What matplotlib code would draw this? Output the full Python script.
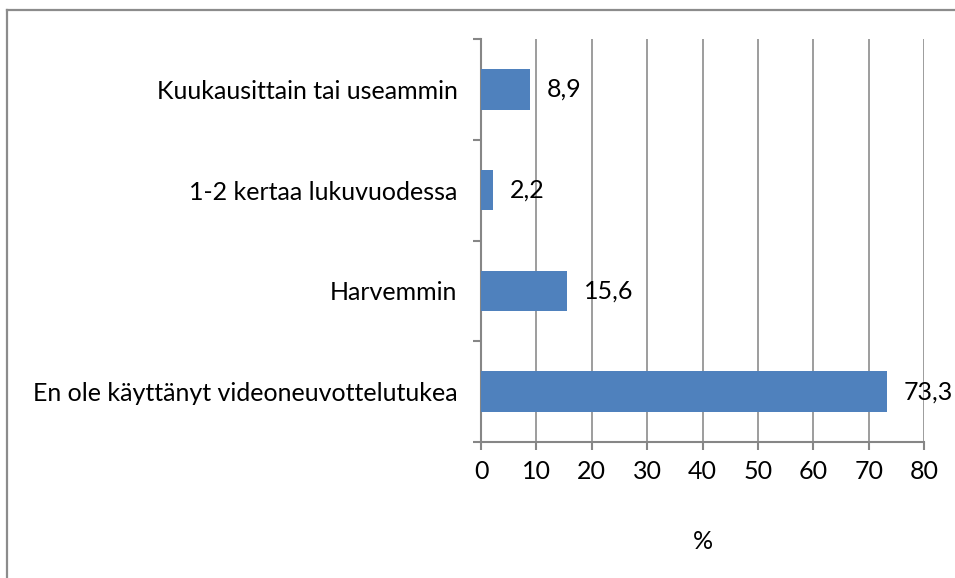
import matplotlib
matplotlib.use("Agg")
import matplotlib.pyplot as plt
from matplotlib.lines import Line2D
from matplotlib.ticker import FixedLocator

categories = ["Kuukausittain tai useammin", "1-2 kertaa lukuvuodessa", "Harvemmin",
              "En ole käyttänyt videoneuvottelutukea"]
values = [8.9, 2.2, 15.6, 73.3]
xticks = [0, 10, 20, 30, 40, 50, 60, 70, 80]
value_labels = ["8,9", "2,2", "15,6", "73,3"]

plt.rcParams['font.family'] = ['Lato', 'DejaVu Sans']
W, H = 955, 578
fs = 18
fig = plt.figure(figsize=(W/100, H/100), dpi=100)
ax = fig.add_axes([481/W, 1-442/H, (924-481)/W, (442-39)/H])

pos = list(range(len(categories)))
ax.barh(pos, values, height=0.4, color="#4F81BD", zorder=3)
ax.set_ylim(len(categories)-0.5, -0.5)
ax.set_xlim(0, 80)
ax.set_xticks(xticks)
ax.set_xticklabels([str(t) for t in xticks])
ax.set_yticks(pos)
ax.set_yticklabels(categories)
ax.yaxis.set_minor_locator(FixedLocator([p - 0.5 for p in pos] + [pos[-1] + 0.5]))

gray = "#868686"
ax.grid(axis="x", color="#959595", linewidth=1.3, zorder=0)
for s in ["top", "right"]:
    ax.spines[s].set_visible(False)
for s in ["left", "bottom"]:
    ax.spines[s].set_color(gray)
    ax.spines[s].set_linewidth(1.5)
ax.tick_params(axis="y", which="major", length=0, pad=17, labelsize=fs)
ax.tick_params(axis="y", which="minor", length=5.5, width=1.5, color=gray)
ax.tick_params(axis="x", which="major", length=6, width=1.5, color=gray, pad=7, labelsize=fs)

for p, v, lab in zip(pos, values, value_labels):
    ax.annotate(lab, (v, p), xytext=(12, 0), textcoords="offset points",
                va="center", ha="left", fontsize=fs, zorder=4)

ax.set_xlabel("%", fontsize=fs, labelpad=34)

fig.add_artist(Line2D([7/W, 7/W], [0, 1-10/H], color="#8c8c8c", linewidth=1.6, transform=fig.transFigure))
fig.add_artist(Line2D([7/W, 1], [1-10/H, 1-10/H], color="#8c8c8c", linewidth=1.6, transform=fig.transFigure))

fig.savefig("out.png", dpi=100)
